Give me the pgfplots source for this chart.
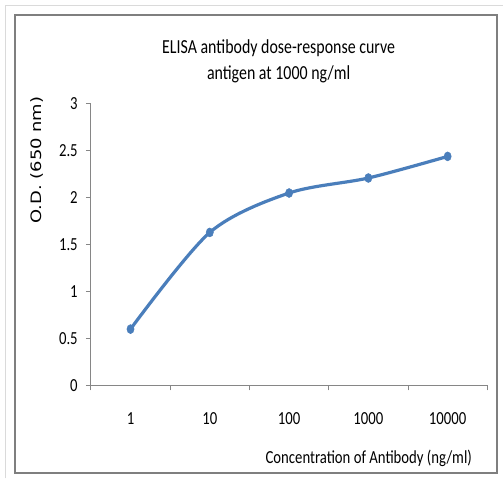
\documentclass[border=0pt]{standalone}
\usepackage{pgfplots}
\pgfplotsset{compat=1.18}
\usepackage{fontspec}
\usepackage{graphicx}
\setmainfont[FakeStretch=0.8]{Carlito}
\newfontfamily\vfont{DejaVu Sans}
\definecolor{lineblue}{HTML}{4A7EBB}
\definecolor{axgray}{HTML}{868686}
\definecolor{framegray}{HTML}{7F7F7F}
\definecolor{lightgray2}{HTML}{DADADA}
\begin{document}
\begin{tikzpicture}[x=1bp,y=1bp]
\fill[white] (0,0) rectangle (504,-479);
\draw[lightgray2, line width=1.5bp] (5.5,-479) -- (5.5,-5.5) -- (504,-5.5);
\draw[framegray, line width=2bp] (15,-15) rectangle (497.5,-474);
\begin{axis}[
  at={(91bp,-386bp)}, anchor=south west,
  scale only axis, width=397bp, height=282bp,
  xmin=-0.5, xmax=4.5, ymin=0, ymax=3,
  axis x line*=bottom, axis y line*=left,
  axis line style={axgray, line width=0.9bp},
  tick align=outside,
  xtick={0,1,2,3,4},
  xticklabels={1,10,100,1000,10000},
  minor xtick={-0.5,0.5,1.5,2.5,3.5,4.5},
  major x tick style={draw=none},
  minor x tick style={axgray, line width=0.9bp},
  ytick={0,0.5,1,1.5,2,2.5,3},
  major y tick style={axgray, line width=0.9bp},
  major tick length=5bp, minor tick length=5bp,
  /pgf/number format/assume math mode=true,
  yticklabel={\pgfmathprintnumber[fixed]{\tick}},
  tick label style={font=\fontsize{18.5}{20}\selectfont, text=black},
  xticklabel style={anchor=center, yshift=-28bp},
  yticklabel style={anchor=east, inner sep=0pt, xshift=-8bp},
  title={ELISA antibody dose-response curve\\antigen at 1000 ng/ml},
  title style={at={(axis description cs:0.4736,1.131)}, anchor=center, align=center, font=\fontsize{20}{26}\selectfont},
  xlabel={Concentration of Antibody (ng/ml)},
  xlabel style={at={(axis description cs:0.701,-0.258)}, anchor=center, font=\fontsize{18.5}{20}\selectfont},
  ylabel={\scalebox{1}[0.8]{\vfont O.D. (650 nm)}},
  ylabel style={at={(axis description cs:-0.137,0.80)}, anchor=center, font=\fontsize{18}{20}\selectfont},
  clip=false,
]
\addplot[lineblue, line width=3.2bp, smooth, tension=0.5, mark=*, mark size=4.5bp,
  mark options={xscale=0.8, fill=lineblue, draw=lineblue, line width=0.5bp}]
  coordinates {(0,0.60) (1,1.63) (2,2.05) (3,2.21) (4,2.44)};
\end{axis}
\end{tikzpicture}
\end{document}
